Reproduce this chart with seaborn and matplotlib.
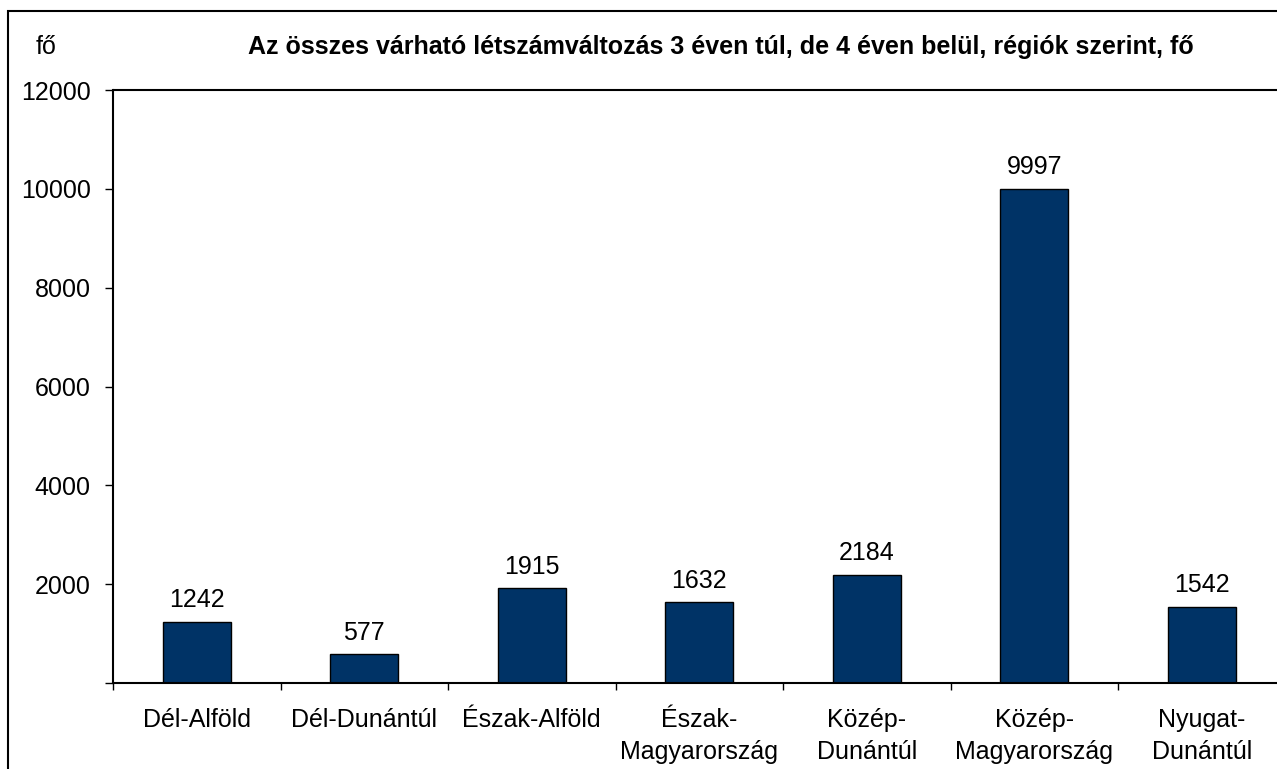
import matplotlib
matplotlib.use("Agg")
import matplotlib.pyplot as plt
import pandas as pd
import seaborn as sns
from matplotlib.patches import Rectangle

regions = ['Dél-Alföld', 'Dél-Dunántúl', 'Észak-Alföld', 'Észak-\nMagyarország',
           'Közép-\nDunántúl', 'Közép-\nMagyarország', 'Nyugat-\nDunántúl']
values = [1242, 577, 1915, 1632, 2184, 9997, 1542]
yticks = [0, 2000, 4000, 6000, 8000, 10000, 12000]
title = 'Az összes várható létszámváltozás 3 éven túl, de 4 éven belül, régiók szerint, fő'

df = pd.DataFrame({'region': regions, 'value': values})

sns.set_style("white", {'xtick.bottom': True, 'ytick.left': True,
                        'text.color': 'black', 'xtick.color': 'black',
                        'ytick.color': 'black', 'axes.edgecolor': 'black'})
plt.rcParams['font.family'] = ['Liberation Sans', 'DejaVu Sans']

W, H = 1277, 769
fig = plt.figure(figsize=(W / 100, H / 100), dpi=100)
# axes box in pixels: left 113, right ~1285, top 90, bottom 683
ax = fig.add_axes([113 / W, 1 - 683 / H, (1285.5 - 113) / W, (683 - 90) / H])

sns.barplot(data=df, x='region', y='value', color='#003366', width=0.405,
            edgecolor='black', linewidth=1, saturation=1, ax=ax)

ax.set_xlim(-0.5, len(regions) - 0.5)
ax.set_ylim(0, 12000)
ax.set_yticks(yticks)
ax.set_yticklabels([''] + [str(t) for t in yticks[1:]], fontsize=18, color='black')
ax.set_xlabel('')
ax.set_ylabel('')

# ticks on category boundaries, labels centered under bars
ax.set_xticks([i - 0.5 for i in range(len(regions) + 1)])
ax.set_xticklabels([])
ax.tick_params(axis='x', which='major', direction='out', length=5, width=1, color='black', bottom=True)
ax.set_xticks(range(len(regions)), minor=True)
ax.set_xticklabels(regions, minor=True, fontsize=18, color='black', linespacing=1.4)
ax.tick_params(axis='x', which='minor', length=0, pad=18, bottom=True)
ax.tick_params(axis='y', direction='out', length=6, width=1, color='black', pad=10, left=True)

for s in ['top', 'right']:
    ax.spines[s].set_visible(False)
ax.spines['left'].set_linewidth(1.5)
ax.spines['bottom'].set_linewidth(1.5)
ax.axhline(12000, color='black', lw=1.5, clip_on=False)

for i, v in enumerate(values):
    ax.annotate(str(v), (i, v), xytext=(0, 7), textcoords='offset points',
                ha='center', va='bottom', fontsize=18, color='black')

fig.text(46 / W, 1 - 47 / H, 'fő', fontsize=18, ha='center', va='center', color='black')
fig.text(721 / W, 1 - 47 / H, title, fontsize=18, fontweight='bold', ha='center', va='center',
         color='black')

# outer chart frame
fig.patches.append(Rectangle((8 / W, -0.1), 1.2, 1 - 11 / H + 0.1, transform=fig.transFigure,
                             fill=False, edgecolor='black', lw=1.5))

fig.savefig('out.png', dpi=100)
